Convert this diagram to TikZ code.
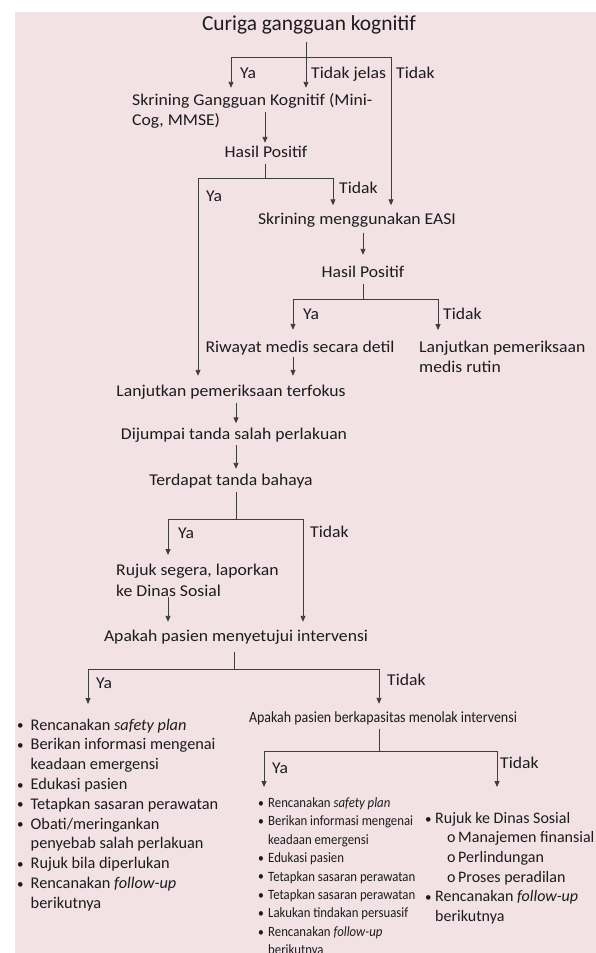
\documentclass[tikz,border=0pt]{standalone}
\usepackage{fontspec}
\setmainfont{Carlito}
\newfontfamily\widefont[FakeStretch=1.07]{Carlito}
\newfontfamily\narrowfont[FakeStretch=0.9]{Carlito}
\usetikzlibrary{arrows.meta}
\definecolor{bgpink}{HTML}{F2E1E5}
\definecolor{ink}{HTML}{1C1C1C}
\definecolor{wire}{HTML}{3E3E3E}
\newlength\bulw
\newcommand\itembul{\makebox[\bulw][l]{\raisebox{0.3pt}{\fontsize{13}{13}\selectfont\textbullet}}}
\newcommand\itemgap{\hspace*{\bulw}}
\newcommand\itemsub{\hspace*{22pt}\makebox[11pt][l]{o}}

\begin{document}
\begin{tikzpicture}[x=1pt,y=-1pt,
    txt/.style={inner sep=0pt,text=ink,font=\widefont\fontsize{16.5}{20}\selectfont,
                text height=11.5pt,text depth=4pt},
    lbl/.style={txt,anchor=base west},
    blk/.style={inner sep=0pt,text=ink,align=left,anchor=north west},
    wire/.style={draw=wire,line width=0.9pt},
    arr/.style={wire,-{Triangle[length=6pt,width=5pt]},shorten >=6pt},
    stem/.style={wire,shorten <=2pt}]
  \useasboundingbox (0,0) rectangle (596,953);
  \fill[bgpink] (15,12) rectangle (596,953);
  % boxes of text
  \node[txt,anchor=base,font=\fontsize{21.4}{25}\selectfont,text height=14pt,text depth=5pt]
      (curiga) at (309,30) {Curiga gangguan kognitif};
  \node[txt,anchor=base west] (skm) at (132,105.5) {Skrining Gangguan Kognitif (Mini-};
  \node[txt,anchor=base west] (skm2) at (132,125.5) {Cog, MMSE)};
  \node[txt,anchor=base] (hp1) at (266,157.5) {Hasil Positif};
  \node[txt,anchor=base] (easi) at (357,224.5) {Skrining menggunakan EASI};
  \node[txt,anchor=base] (hp2) at (363,277.5) {Hasil Positif};
  \node[txt,anchor=base] (riw) at (300,352.5) {Riwayat medis secara detil};
  \node[blk,font=\widefont\fontsize{16.5}{20}\selectfont] (rutin) at (419,341)
      {Lanjutkan pemeriksaan\\medis rutin};
  \node[txt,anchor=base] (lanj) at (231,396.5) {Lanjutkan pemeriksaan terfokus};
  \node[txt,anchor=base] (dij) at (234,439) {Dijumpai tanda salah perlakuan};
  \node[txt,anchor=base] (terd) at (231,485.5) {Terdapat tanda bahaya};
  \node[blk,font=\widefont\fontsize{16.5}{21}\selectfont] (rujuk) at (116,564)
      {Rujuk segera, laporkan\\ke Dinas Sosial};
  \node[txt,anchor=base] (apk1) at (236,641.5) {Apakah pasien menyetujui intervensi};
  \node[txt,anchor=base,font=\narrowfont\fontsize{15.5}{19}\selectfont] (apk2) at (383,722.5)
      {Apakah pasien berkapasitas menolak intervensi};
  % the three lists
  \node[blk,font=\fontsize{16.3}{19.8}\selectfont\setlength\bulw{13.5pt}] (lst1) at (17,718.5) {%
    \itembul Rencanakan \textit{safety plan}\\
    \itembul Berikan informasi mengenai\\
    \itemgap keadaan emergensi\\
    \itembul Edukasi pasien\\
    \itembul Tetapkan sasaran perawatan\\
    \itembul Obati/meringankan\\
    \itemgap penyebab salah perlakuan\\
    \itembul Rujuk bila diperlukan\\
    \itembul Rencanakan \textit{follow-up}\\
    \itemgap berikutnya};
  \node[blk,font=\narrowfont\fontsize{14.2}{18.4}\selectfont\setlength\bulw{10pt}] (lst2) at (258,797.5) {%
    \itembul Rencanakan \textit{safety plan}\\
    \itembul Berikan informasi mengenai\\
    \itemgap keadaan emergensi\\
    \itembul Edukasi pasien\\
    \itembul Tetapkan sasaran perawatan\\
    \itembul Tetapkan sasaran perawatan\\
    \itembul Lakukan tindakan persuasif\\
    \itembul Rencanakan \textit{follow-up}\\
    \itemgap berikutnya};
  \node[blk,font=\fontsize{16}{19.6}\selectfont\setlength\bulw{10pt}] (lst3) at (425,812) {%
    \itembul Rujuk ke Dinas Sosial\\
    \itemsub Manajemen finansial\\
    \itemsub Perlindungan\\
    \itemsub Proses peradilan\\
    \itembul Rencanakan \textit{follow-up}\\
    \itemgap berikutnya};
  % branch points
  \coordinate (j1) at (306,57);  \coordinate (j1l) at (231,57);  \coordinate (j1r) at (391,57);
  \coordinate (j2) at (265,178); \coordinate (j2l) at (198,178); \coordinate (j2r) at (333,178);
  \coordinate (j3) at (363,299); \coordinate (j3l) at (293,299); \coordinate (j3r) at (438,299);
  \coordinate (j4) at (236,519); \coordinate (j4l) at (168,519); \coordinate (j4r) at (303,519);
  \coordinate (j5) at (234,669); \coordinate (j5l) at (88,669);  \coordinate (j5r) at (379,669);
  \coordinate (j6) at (379,751); \coordinate (j6l) at (264,751); \coordinate (j6r) at (497,751);
  % connectors
  \draw[stem,shorten <=7pt] (j1 |- curiga.south) -- (j1);
  \draw[arr,shorten >=6pt] (j1) -| (j1l |- skm.north);
  \draw[arr,shorten >=6pt] (j1) -- (j1 |- skm.north);
  \draw[arr,shorten >=7.5pt] (j1) -| (j1r |- easi.north);
  \draw[arr,stem,shorten >=3pt] (j2 |- skm.south) -- (j2 |- hp1.north);
  \draw[stem] (j2 |- hp1.south) -- (j2);
  \draw[arr,shorten >=9pt] (j2) -| (j2l |- lanj.north);
  \draw[arr,shorten >=7.5pt] (j2) -| (j2r |- easi.north);
  \draw[arr,stem,shorten <=4pt,shorten >=11pt] (j3 |- easi.south) -- (j3 |- hp2.north);
  \draw[stem] (j3 |- hp2.south) -- (j3);
  \draw[arr,shorten >=11pt] (j3) -| (j3l |- riw.north);
  \draw[arr,shorten >=11pt] (j3) -| (j3r |- rutin.north);
  \draw[arr,shorten <=0pt,shorten >=9pt] (j3l |- riw.south) -- (j3l |- lanj.north);
  \draw[arr,stem,shorten >=4pt] (j4 |- lanj.south) -- (j4 |- dij.north);
  \draw[arr,stem,shorten >=5pt] (j4 |- dij.south) -- (j4 |- terd.north);
  \draw[stem] (j4 |- terd.south) -- (j4);
  \draw[arr,shorten >=9pt] (j4) -| (j4l |- rujuk.north);
  \draw[arr,shorten >=8pt] (j4) -| (j4r |- apk1.north);
  \draw[arr,shorten >=8pt] (j4l |- rujuk.south) -- (j4l |- apk1.north);
  \draw[stem,shorten <=6pt] (j5 |- apk1.south) -- (j5);
  \draw[arr,shorten >=14.5pt] (j5) -| (j5l |- lst1.north);
  \draw[arr,shorten >=7pt] (j5) -| (j5r |- apk2.north);
  \draw[stem] (j6 |- apk2.south) -- (j6);
  \draw[arr,shorten >=10.5pt] (j6) -| (j6l |- lst2.north);
  \draw[arr,shorten >=25pt] (j6) -| (j6r |- lst3.north);
  % answers on the branches
  \node[lbl] (ya1) at (240,78) {Ya};
  \node[lbl] (tdj1) at (311,78) {Tidak jelas};
  \node[lbl] (td1) at (396,78) {Tidak};
  \node[lbl] (ya2) at (206,201.5) {Ya};
  \node[lbl] (td2) at (339,193.5) {Tidak};
  \node[lbl] (ya3) at (303,319.5) {Ya};
  \node[lbl] (td3) at (443,319.5) {Tidak};
  \node[lbl] (ya4) at (178,538.5) {Ya};
  \node[lbl] (td4) at (310,537.5) {Tidak};
  \node[lbl] (ya5) at (96,688.5) {Ya};
  \node[lbl] (td5) at (387,685.5) {Tidak};
  \node[lbl] (ya6) at (272,773.5) {Ya};
  \node[lbl] (td6) at (500,768.5) {Tidak};
\end{tikzpicture}
\end{document}
